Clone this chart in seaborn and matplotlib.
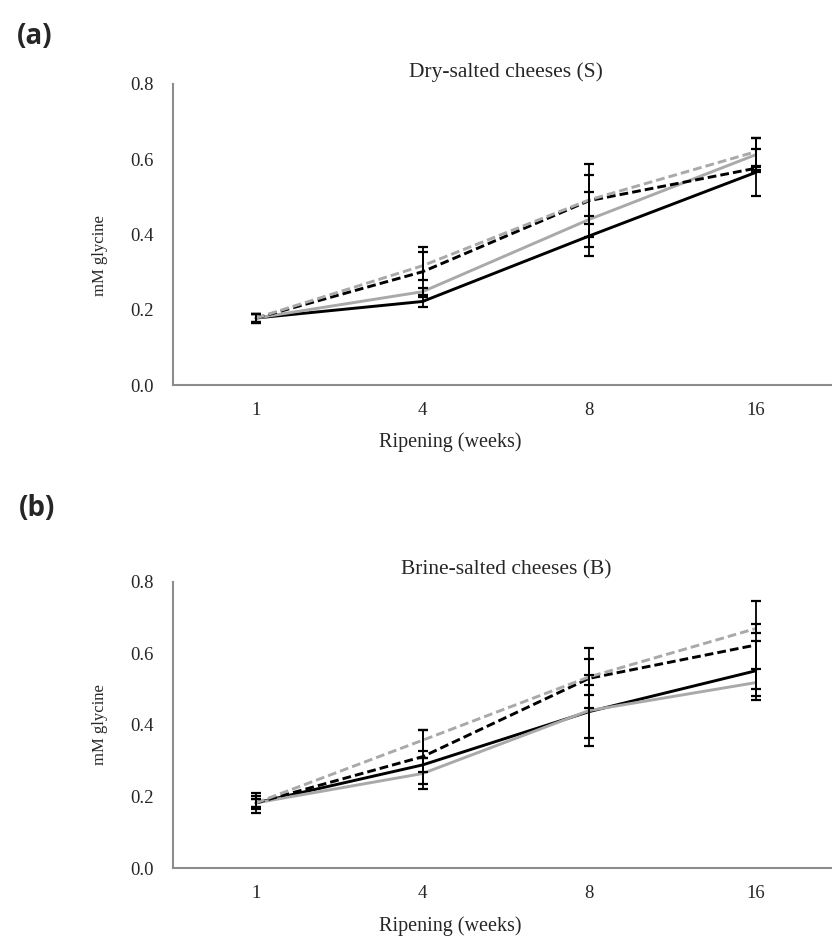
import matplotlib
matplotlib.use("Agg")
import matplotlib.pyplot as plt
import seaborn as sns
import pandas as pd
import numpy as np

# ---------------- data ----------------
weeks = ["1", "4", "8", "16"]
series = ["S1", "S2", "S3", "S4"]  # black solid, grey solid, black dashed, grey dashed

# (a) Dry-salted cheeses (S)
dry_black_solid = [0.178, 0.222, 0.396, 0.565]
dry_black_solid_err = [0.012, 0.014, 0.053, 0.062]
dry_grey_solid = [0.178, 0.248, 0.440, 0.612]
dry_grey_solid_err = [0.010, 0.010, 0.074, 0.045]
dry_black_dash = [0.178, 0.301, 0.490, 0.576]
dry_black_dash_err = [0.012, 0.067, 0.097, 0.004]
dry_grey_dash = [0.178, 0.317, 0.492, 0.620]
dry_grey_dash_err = [0.010, 0.037, 0.065, 0.037]

# (b) Brine-salted cheeses (B)
brine_black_solid = [0.182, 0.288, 0.437, 0.551]
brine_black_solid_err = [0.018, 0.020, 0.075, 0.082]
brine_grey_solid = [0.182, 0.264, 0.440, 0.518]
brine_grey_solid_err = [0.012, 0.044, 0.100, 0.038]
brine_black_dash = [0.182, 0.311, 0.530, 0.623]
brine_black_dash_err = [0.027, 0.076, 0.084, 0.123]
brine_grey_dash = [0.182, 0.357, 0.534, 0.669]
brine_grey_dash_err = [0.012, 0.030, 0.050, 0.013]

titles = ["Dry-salted cheeses (S)", "Brine-salted cheeses (B)"]
panel_labels = ["(a)", "(b)"]
y_ticks = [0.0, 0.2, 0.4, 0.6, 0.8]
x_label = "Ripening (weeks)"
y_label = "mM glycine"

# ---------------- style ----------------
sns.set_style("white")
plt.rcParams["font.family"] = ["Liberation Serif", "DejaVu Serif"]

GREY = "#A9A9A9"
AXC = "#8C8C8C"
palette = {"S1": "black", "S2": GREY, "S3": "black", "S4": GREY}
dashes = {"S1": "", "S2": "", "S3": (3, 1.4), "S4": (3, 1.4)}

W, H = 832, 938
fig = plt.figure(figsize=(W / 100, H / 100), dpi=100)

def frac_axes(left, top, right, bottom):
    return [left / W, 1 - bottom / H, (right - left) / W, (bottom - top) / H]

ax_a = fig.add_axes(frac_axes(172.7, 84, 839, 385))
ax_b = fig.add_axes(frac_axes(172.7, 581.7, 839, 868))

panels = [
    (ax_a, [dry_black_solid, dry_grey_solid, dry_black_dash, dry_grey_dash],
     [dry_black_solid_err, dry_grey_solid_err, dry_black_dash_err, dry_grey_dash_err]),
    (ax_b, [brine_black_solid, brine_grey_solid, brine_black_dash, brine_grey_dash],
     [brine_black_solid_err, brine_grey_solid_err, brine_black_dash_err, brine_grey_dash_err]),
]

for i, (ax, vals, errs) in enumerate(panels):
    rows = []
    for s, v in zip(series, vals):
        for w, y in zip(weeks, v):
            rows.append({"week": w, "value": y, "series": s})
    df = pd.DataFrame(rows)
    sns.lineplot(data=df, x="week", y="value", hue="series", style="series",
                 palette=palette, dashes=dashes, linewidth=2.1, errorbar=None,
                 legend=False, ax=ax, sort=False, zorder=2)
    for v, e in zip(vals, errs):
        ax.errorbar(weeks, v, yerr=e, fmt="none", ecolor="black",
                    elinewidth=1.3, capsize=3.3, capthick=1.6, zorder=3)

    ax.set_xlim(-0.5, 3.5)
    ax.set_ylim(0, 0.8)
    ax.set_yticks(y_ticks)
    ax.set_yticklabels([f"{t:.1f}" for t in y_ticks])
    ax.set_xticks(range(len(weeks)))
    ax.set_xticklabels(weeks)
    ax.set_xticks([-0.5, 0.5, 1.5, 2.5, 3.5], minor=True)
    ax.tick_params(axis="x", which="major", length=0, pad=12.5, labelsize=13.5)
    ax.tick_params(axis="x", which="minor", length=5, width=1.2, color=AXC,
                   direction="out")
    ax.tick_params(axis="y", which="major", length=4, width=1.2, color=AXC,
                   direction="out", pad=10, labelsize=13.5)
    for side in ["top", "right"]:
        ax.spines[side].set_visible(False)
    for side in ["left", "bottom"]:
        ax.spines[side].set_color(AXC)
        ax.spines[side].set_linewidth(1.5)

    ax.set_xlabel(x_label, fontsize=14.5)
    ax.set_ylabel(y_label, fontsize=12)
    ax.text(0.5, 1.0 + 12 / (301 if i == 0 else 286), titles[i],
            transform=ax.transAxes, ha="center", va="center", fontsize=15.5)

ax_a.xaxis.set_label_coords(0.416, -0.158)
ax_b.xaxis.set_label_coords(0.416, -0.168)
ax_a.yaxis.set_label_coords(-0.097, 0.43)
ax_b.yaxis.set_label_coords(-0.097, 0.50)

fig.text(35 / W, 1 - 36 / H, panel_labels[0], fontsize=20, fontweight="bold",
         family=["Open Sans", "DejaVu Sans"], ha="center", va="center")
fig.text(37 / W, 1 - 508 / H, panel_labels[1], fontsize=20, fontweight="bold",
         family=["Open Sans", "DejaVu Sans"], ha="center", va="center")

fig.savefig("out.png", dpi=100)
